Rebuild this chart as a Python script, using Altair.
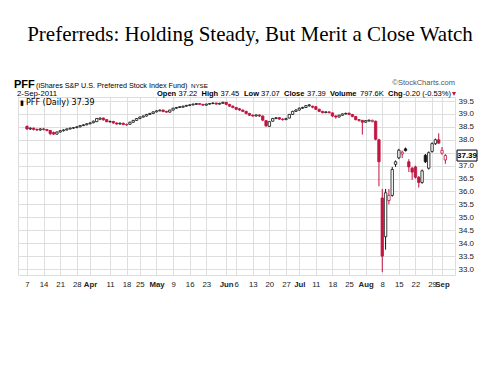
import altair as alt
import pandas as pd

# ---------------- data ----------------
open_ = [38.52, 38.42, 38.45, 38.40, 38.38, 38.42, 38.40, 38.36, 38.28, 38.22,
         38.30, 38.35, 38.38, 38.42, 38.45, 38.47, 38.50, 38.55, 38.58, 38.62,
         38.66, 38.70, 38.80, 38.84, 38.78, 38.70, 38.71, 38.65, 38.61, 38.64,
         38.59, 38.60, 38.68, 38.75, 38.82, 38.88, 38.92, 38.98, 39.02, 39.08,
         39.12, 39.15, 39.10, 39.07, 39.15, 39.22, 39.25, 39.26, 39.30, 39.33,
         39.35, 39.37, 39.40, 39.37, 39.34, 39.38, 39.40, 39.42, 39.38, 39.41,
         39.45, 39.37, 39.30, 39.25, 39.20, 39.15, 39.10, 39.02, 38.95, 38.92,
         38.96, 38.92, 38.74, 38.52, 38.72, 38.82, 38.86, 38.80, 38.78, 38.84,
         38.98, 39.10, 39.15, 39.22, 39.25, 39.32, 39.30, 39.28, 39.18, 39.10,
         39.05, 39.08, 39.04, 38.92, 38.88, 38.95, 39.00, 39.03, 38.98, 38.90,
         38.78, 38.75, 38.68, 38.73, 38.70, 38.72, 38.00, 35.75, 34.25, 35.65,
         35.85, 37.05, 37.30, 37.45, 37.65, 37.15, 36.90, 36.95, 36.55, 36.35,
         37.40, 36.90, 37.55, 37.85, 38.00, 37.48, 37.22]
high = [38.55, 38.48, 38.47, 38.44, 38.45, 38.46, 38.42, 38.38, 38.32, 38.32,
        38.37, 38.40, 38.44, 38.47, 38.49, 38.52, 38.57, 38.60, 38.64, 38.68,
        38.74, 38.84, 38.86, 38.86, 38.80, 38.74, 38.73, 38.68, 38.67, 38.66,
        38.63, 38.70, 38.77, 38.84, 38.90, 38.94, 39.00, 39.04, 39.10, 39.14,
        39.17, 39.17, 39.12, 39.16, 39.24, 39.27, 39.30, 39.32, 39.35, 39.37,
        39.40, 39.42, 39.42, 39.39, 39.40, 39.42, 39.45, 39.44, 39.43, 39.47,
        39.46, 39.39, 39.33, 39.27, 39.23, 39.17, 39.12, 39.04, 38.98, 38.98,
        38.98, 38.94, 38.76, 38.72, 38.85, 38.88, 38.88, 38.83, 38.85, 39.00,
        39.12, 39.18, 39.25, 39.28, 39.34, 39.38, 39.32, 39.30, 39.20, 39.12,
        39.10, 39.10, 39.06, 38.95, 38.97, 39.02, 39.05, 39.05, 39.00, 38.92,
        38.80, 38.77, 38.76, 38.78, 38.78, 38.74, 38.04, 36.10, 36.10, 36.10,
        36.95, 37.20, 37.65, 37.58, 37.70, 37.25, 36.95, 37.00, 36.60, 36.85,
        37.45, 37.55, 37.90, 38.05, 38.25, 37.72, 37.45]
low = [38.38, 38.38, 38.36, 38.34, 38.35, 38.36, 38.33, 38.18, 38.19, 38.20,
       38.28, 38.32, 38.36, 38.40, 38.42, 38.45, 38.48, 38.53, 38.56, 38.60,
       38.64, 38.69, 38.76, 38.74, 38.68, 38.66, 38.62, 38.58, 38.59, 38.57,
       38.54, 38.58, 38.66, 38.73, 38.80, 38.86, 38.90, 38.96, 39.00, 39.06,
       39.10, 39.07, 39.04, 39.05, 39.13, 39.20, 39.23, 39.24, 39.28, 39.30,
       39.33, 39.35, 39.35, 39.32, 39.32, 39.36, 39.38, 39.36, 39.36, 39.39,
       39.34, 39.27, 39.22, 39.15, 39.12, 39.07, 38.98, 38.92, 38.89, 38.90,
       38.88, 38.72, 38.50, 38.50, 38.70, 38.80, 38.77, 38.74, 38.76, 38.83,
       38.96, 39.08, 39.13, 39.20, 39.23, 39.28, 39.22, 39.15, 39.07, 39.02,
       39.03, 39.02, 38.88, 38.82, 38.86, 38.93, 38.98, 38.95, 38.87, 38.75,
       38.70, 38.20, 38.66, 38.70, 38.68, 37.98, 36.20, 32.88, 33.75, 35.50,
       35.80, 36.95, 37.25, 37.30, 37.55, 36.75, 36.45, 36.50, 36.15, 36.30,
       37.10, 36.85, 37.50, 37.80, 37.85, 37.42, 37.07]
close = [38.42, 38.45, 38.40, 38.38, 38.42, 38.40, 38.36, 38.24, 38.22, 38.30,
         38.35, 38.38, 38.42, 38.45, 38.47, 38.50, 38.55, 38.58, 38.62, 38.65,
         38.72, 38.82, 38.84, 38.77, 38.70, 38.71, 38.65, 38.61, 38.64, 38.59,
         38.58, 38.68, 38.75, 38.82, 38.88, 38.92, 38.98, 39.02, 39.08, 39.12,
         39.15, 39.09, 39.07, 39.15, 39.22, 39.25, 39.28, 39.30, 39.33, 39.35,
         39.38, 39.40, 39.37, 39.34, 39.38, 39.40, 39.42, 39.38, 39.41, 39.45,
         39.37, 39.30, 39.25, 39.18, 39.15, 39.10, 39.02, 38.95, 38.92, 38.96,
         38.92, 38.76, 38.54, 38.70, 38.82, 38.85, 38.80, 38.78, 38.82, 38.98,
         39.10, 39.15, 39.22, 39.25, 39.32, 39.35, 39.26, 39.18, 39.10, 39.05,
         39.08, 39.05, 38.92, 38.88, 38.95, 39.00, 39.02, 38.98, 38.90, 38.78,
         38.75, 38.68, 38.74, 38.76, 38.75, 38.02, 37.15, 33.50, 35.95, 35.85,
         36.85, 37.15, 37.60, 37.52, 37.58, 36.95, 36.75, 36.55, 36.35, 36.80,
         37.15, 37.50, 37.85, 38.00, 37.87, 37.59, 37.39]

tick_idx = [0, 5, 10, 15, 19, 25, 30, 34, 39, 44, 49, 54, 60, 63, 68, 73, 78,
            82, 87, 92, 97, 102, 107, 112, 117, 122, 125]
tick_lab = ['7', '14', '21', '28', 'Apr', '11', '18', '25', 'May', '9', '16',
            '23', 'Jun', '6', '13', '20', '27', 'Jul', '11', '18', '25', 'Aug',
            '8', '15', '22', '29', 'Sep']
month_idx = [19, 39, 60, 82, 102, 125]
y_ticks = [33.0, 33.5, 34.0, 34.5, 35.0, 35.5, 36.0, 36.5, 37.0, 37.5,
           38.0, 38.5, 39.0, 39.5]
last_price = [37.39]

# ---------------- derived table ----------------
RED = '#c01540'
rows = []
for i in range(len(close)):
    prev = close[i - 1] if i > 0 else open_[i]
    col = 'up' if close[i] >= prev else 'down'
    fill = 'hollow' if close[i] > open_[i] else col
    rows.append(dict(i=i, o=open_[i], h=high[i], l=low[i], c=close[i],
                     col=col, fill=fill))
df = pd.DataFrame(rows)

W, H = 437, 178

xaxis = alt.Axis(
    values=tick_idx,
    labelExpr="%s[indexof(%s, datum.value)]" % (str(tick_lab), str(tick_idx)),
    labelFontWeight={"condition": {"test": "indexof(%s, datum.value) >= 0" % str(month_idx),
                                   "value": "bold"}, "value": "normal"},
    orient='bottom', ticks=False, domain=False, grid=True, gridColor='#dedede',
    labelFontSize=7.8, labelFont='Liberation Sans', labelColor='#222',
    labelPadding=5, labelAngle=0, labelOverlap=False, labelFlush=False, title=None)
yaxis = alt.Axis(
    values=y_ticks, format='.1f', orient='right', ticks=False, domain=False,
    grid=True, gridColor='#dedede', labelFontSize=8, labelFont='Liberation Sans',
    labelColor='#222', labelPadding=3, title=None)

xs = alt.Scale(domain=[-1.2, 127.4], nice=False, zero=False)
ys = alt.Scale(domain=[32.77, 39.655], nice=False, zero=False)

X = alt.X('i:Q', scale=xs, axis=xaxis)

base = alt.Chart(df)
wicks = base.mark_rule(strokeWidth=1).encode(
    x=X,
    y=alt.Y('l:Q', scale=ys, axis=yaxis),
    y2='h:Q',
    color=alt.Color('col:N', scale=alt.Scale(domain=['up', 'down'], range=['#111', RED]), legend=None),
)
bodies = base.mark_bar(width=2.4, strokeWidth=0.8).encode(
    x=X,
    y=alt.Y('o:Q', scale=ys, axis=yaxis),
    y2='c:Q',
    fill=alt.Fill('fill:N', scale=alt.Scale(domain=['hollow', 'up', 'down'],
                                            range=['#ffffff', '#111', RED]), legend=None),
    stroke=alt.Stroke('col:N', scale=alt.Scale(domain=['up', 'down'], range=['#111', RED]), legend=None),
)

tagdf = pd.DataFrame({'p': last_price, 't': ['%.2f' % v for v in last_price]})
tagbox = alt.Chart(tagdf).mark_point(
    shape='M-1,-0.55H1V0.55H-1Z', size=400, filled=True, fill='white',
    stroke='black', strokeWidth=1, opacity=1).encode(
    x=alt.value(W + 12), y=alt.Y('p:Q', scale=ys, axis=yaxis))
tagtxt = alt.Chart(tagdf).mark_text(
    fontSize=8, font='Liberation Sans', fontWeight='bold', color='#000',
    align='center', baseline='middle').encode(
    x=alt.value(W + 12), y=alt.Y('p:Q', scale=ys, axis=yaxis), text='t:N')

# header texts: (text, x, y, size, weight, color, align, font)
segments = [
    ('Preferreds: Holding Steady, But Merit a Close Watch', 232, -56, 21, 'normal', '#000', 'center', 'Liberation Serif'),
    ('PFF', -4, -9, 11, 'bold', '#000', 'left', 'Liberation Sans'),
    ('(iShares S&P U.S. Preferred Stock Index Fund)', 18, -9, 7.2, 'normal', '#000', 'left', 'Liberation Sans'),
    ('NYSE', 173, -9, 6.2, 'normal', '#000', 'left', 'Liberation Sans'),
    ('\u00a9StockCharts.com', 437, -12, 7.5, 'normal', '#555', 'right', 'Liberation Sans'),
    ('2-Sep-2011', -1, -1, 7.8, 'normal', '#000', 'left', 'Liberation Sans'),
    ('Open', 139, -1, 7.5, 'bold', '#000', 'left', 'Liberation Sans'),
    ('37.22', 160.5, -1, 7.5, 'normal', '#000', 'left', 'Liberation Sans'),
    ('High', 183.5, -1, 7.5, 'bold', '#000', 'left', 'Liberation Sans'),
    ('37.45', 202.5, -1, 7.5, 'normal', '#000', 'left', 'Liberation Sans'),
    ('Low', 226, -1, 7.5, 'bold', '#000', 'left', 'Liberation Sans'),
    ('37.07', 243, -1, 7.5, 'normal', '#000', 'left', 'Liberation Sans'),
    ('Close', 266, -1, 7.5, 'bold', '#000', 'left', 'Liberation Sans'),
    ('37.39', 289, -1, 7.5, 'normal', '#000', 'left', 'Liberation Sans'),
    ('Volume', 312, -1, 7.5, 'bold', '#000', 'left', 'Liberation Sans'),
    ('797.6K', 342, -1, 7.5, 'normal', '#000', 'left', 'Liberation Sans'),
    ('Chg', 370, -1, 7.5, 'bold', '#000', 'left', 'Liberation Sans'),
    ('-0.20 (-0.53%)', 385, -1, 7.5, 'normal', '#000', 'left', 'Liberation Sans'),
    ('\u25be', 434, -1, 8, 'normal', RED, 'left', 'DejaVu Sans'),
    ('PFF (Daily) 37.39', 8, 8, 8, 'normal', '#000', 'left', 'DejaVu Sans'),
    ('\u25ae', 2, 8, 7, 'normal', '#000', 'left', 'DejaVu Sans'),
]
texts = []
for (t, x, y, s, w, c, a, f) in segments:
    texts.append(alt.Chart(pd.DataFrame({'t': [t]})).mark_text(
        fontSize=s, fontWeight=w, color=c, align=a, baseline='alphabetic', font=f
    ).encode(text='t:N', x=alt.value(x), y=alt.value(y)))

chart = alt.layer(wicks, bodies, tagbox, tagtxt, *texts).properties(
    width=W, height=H,
    autosize=alt.AutoSizeParams(type='none'),
    padding={'left': 10, 'top': 89, 'right': 27, 'bottom': 80},
).configure_view(stroke='#9a9a9a', strokeWidth=1).configure(background='white')

chart.save('out.html', embed_options={'renderer': 'svg', 'actions': False})
